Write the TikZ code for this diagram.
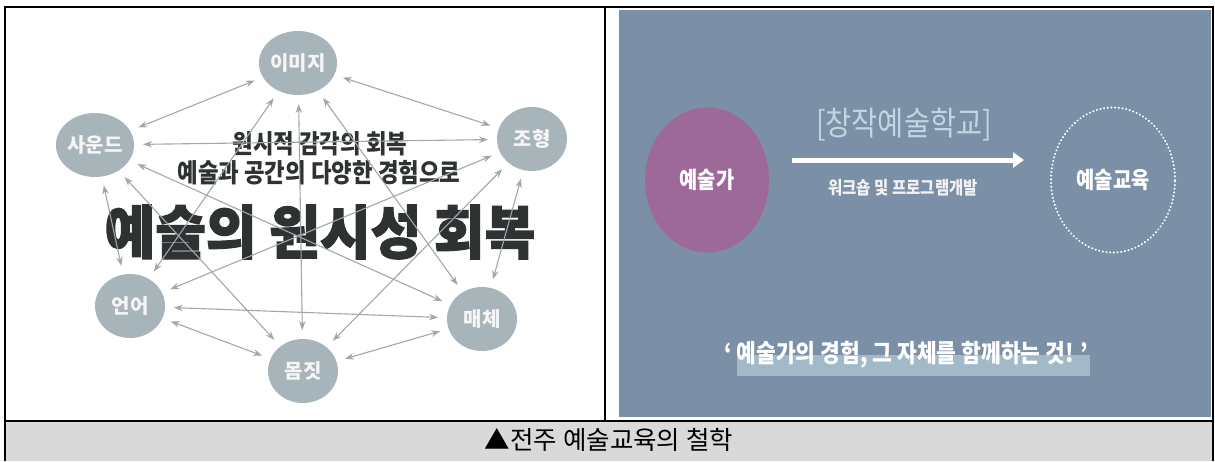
\documentclass[tikz,border=0pt]{standalone}
\usepackage{fontspec}
\newfontfamily\kr{Noto Sans CJK KR}
\newfontfamily\krc[FakeStretch=0.86]{Noto Sans CJK KR}
\newfontfamily\krh[FakeStretch=0.95, BoldFeatures={FakeBold=2}]{Noto Sans CJK KR}
\usetikzlibrary{arrows.meta,shapes.geometric}
\definecolor{nodegray}{RGB}{167,180,186}
\definecolor{edgegray}{RGB}{160,168,170}
\definecolor{darktext}{RGB}{46,50,51}
\definecolor{panelblue}{RGB}{123,143,166}
\definecolor{purple1}{RGB}{157,105,152}
\definecolor{lightcyan}{RGB}{190,215,225}
\definecolor{hilite}{RGB}{161,185,200}
\definecolor{capgray}{RGB}{217,217,217}
\tikzset{
  bubble/.style={ellipse, fill=nodegray, minimum width=70pt, minimum height=64pt, inner sep=0pt, outer sep=0pt,
    text=white!96!black, font=\kr\bfseries\fontsize{20}{20}\selectfont},
  biarrow/.style={draw=edgegray, line width=1.1pt, {Stealth[length=9pt,width=6.5pt]}-{Stealth[length=9pt,width=6.5pt]},
    shorten <=9pt, shorten >=9pt},
  frame/.style={draw=black, line width=1.3pt},
  bigcirc/.style={ellipse, minimum width=124pt, minimum height=145pt, inner sep=0pt},
  whitelabel/.style={text=white, font=\krc\bfseries\fontsize{23}{23}\selectfont}
}
\begin{document}
\begin{tikzpicture}[x=1pt,y=-1pt]
\useasboundingbox (0,0) rectangle (1215,461);
\fill[white] (0,0) rectangle (1215,461);
% caption band
\fill[capgray] (5,421) rectangle (1213,461);
% right panel background
\fill[panelblue] (619,10) rectangle (1211,417);
% frame lines
\draw[frame] (5,461) -- (5,7) -- (1213,7) -- (1213,461);
\draw[frame] (605,7) -- (605,421);
\draw[frame] (5,421) -- (1213,421);

% ---------- left panel ----------
\node[text=darktext, font=\krc\bfseries\fontsize{26}{26}\selectfont] (t1) at (320,144) {원시적 감각의 회복};
\node[text=darktext, font=\krc\bfseries\fontsize{26}{26}\selectfont] (t2) at (319,173) {예술과 공간의 다양한 경험으로};
\node[text=darktext, font=\krh\bfseries\fontsize{58}{58}\selectfont] (t3) at (320,232) {예술의 원시성 회복};

\node[bubble] (img) at (298,63) {이미지};
\node[bubble] (jh) at (532,139) {조형};
\node[bubble] (snd) at (95,145) {사운드};
\node[bubble] (lang) at (130,306) {언어};
\node[bubble] (media) at (482,319) {매체};
\node[bubble] (body) at (303,371) {몸짓};

\foreach \a/\b in {snd/img, img/jh, snd/jh, img/lang, img/body, img/media, jh/lang, jh/body, jh/media,
  snd/media, snd/body, snd/lang, lang/media, lang/body, body/media}
  \draw[biarrow] (\a) -- (\b);

% ---------- right panel ----------
\node[bigcirc, fill=purple1] (artist) at (707,180) {};
\node[whitelabel] (artistlbl) at (artist) {예술가};
\node[bigcirc, draw=white, line width=2.2pt, dash pattern=on 0.1pt off 3.6pt, line cap=round] (edu) at (1113,180) {};
\node[whitelabel] (edulbl) at (edu) {예술교육};

\node[text=lightcyan, font=\krc\fontsize{33}{33}\selectfont] (school) at (904,125) {[창작예술학교]};
\coordinate (arrS) at (792,160);
\coordinate (arrE) at (1024,160);
\draw[white, line width=5pt, -{Triangle[length=11pt,width=15pt]}] (arrS) -- (arrE);
\node[text=white!95!black, font=\krc\bfseries\fontsize{18}{18}\selectfont] (ws) at (903,188) {워크숍 및 프로그램개발};

\fill[hilite] (737,355) rectangle (1090,376);
\node[text=white, font=\krc\bfseries\fontsize{25}{25}\selectfont] (quote) at (906,355) {‘ 예술가의 경험, 그 자체를 함께하는 것! ’};

% ---------- caption ----------
\node[text=black, font=\kr\fontsize{25.5}{25.5}\selectfont] (cap) at (609,440) {▲전주 예술교육의 철학};
\end{tikzpicture}
\end{document}
